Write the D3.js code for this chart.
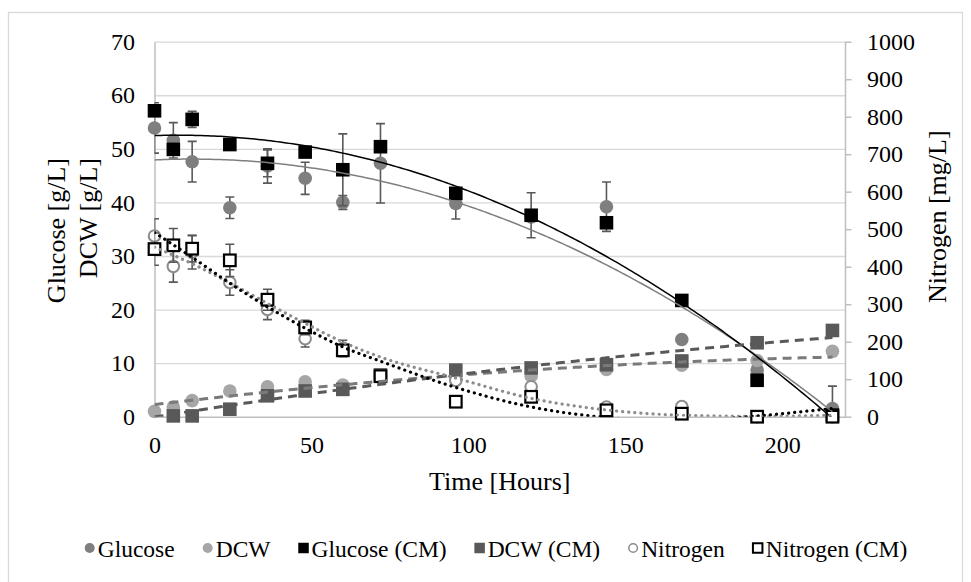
<!DOCTYPE html>
<html>
<head>
<meta charset="utf-8">
<script src="https://cdn.jsdelivr.net/npm/d3@7"></script>
<style>
  html, body { margin: 0; padding: 0; background: #fff; }
  svg { display: block; }
  text { font-family: "Liberation Serif", "Times New Roman", serif !important; fill: #000; }
</style>
</head>
<body>
<svg id="chart" width="971" height="582"></svg>
<script>
// ---------------- data ----------------
const times = [0, 6, 12, 24, 36, 48, 60, 72, 96, 120, 144, 168, 192, 216];

const glucose       = [53.9, 51.6, 47.6, 39.0, 46.8, 44.5, 40.0, 47.3, 39.8, 37.3, 39.2, 14.4, 8.7, 1.5];
const glucoseErr    = [4.7, 3.3, 3.8, 2.0, 3.2, 3.0, 1.3, 7.4, 2.9, 0, 4.6, 0, 0, 4.2];
const dcw           = [1.0, 1.8, 3.0, 4.8, 5.6, 6.5, 5.9, 7.5, 7.6, 7.6, 8.8, 9.6, 10.5, 12.2];
const glucoseCM     = [57.1, 49.9, 55.5, 50.8, 47.3, 49.4, 46.1, 50.4, 41.7, 37.6, 36.2, 21.7, 6.8, 0.3];
const glucoseCMErr  = [0, 0, 1.5, 0, 2.5, 0, 6.7, 0, 0, 4.2, 0, 0, 0, 0];
const dcwCM         = [null, 0.15, 0.15, 1.4, 3.9, 4.8, 5.1, 7.8, 8.7, 9.1, 9.7, 10.4, 13.8, 16.1];
const nitrogen      = [482, 401, 439, 358, 286, 208, 182, 108, 97, 80, 26, 27, 0, 0];
const nitrogenErr   = [46, 42, 45, 34, 27, 22, 22, 0, 0, 0, 0, 0, 0, 0];
const nitrogenCM    = [447, 457, 448, 417, 312, 238, 177, 108, 40, 53, 17, 8, 0, 0];
const nitrogenCMErr = [43, 45, 35, 43, 28, 19, 0, 0, 8, 10, 0, 6, 0, 0];

// nitrogen trend lines (clipped below 0 by the plot area)
const trendTimes      = [0, 12, 24, 36, 48, 60, 72, 96, 120, 144, 168, 192, 216];
const nitrogenTrend   = [452, 408, 357, 302, 249, 199, 159, 103, 49, 18, 4, 1, 4];
const nitrogenCMTrend = [491, 425, 356, 293, 236, 186, 148, 78, 26, -2, -11, 2, 22];

const xTicks = [0, 50, 100, 150, 200];
const yLeftTicks = [0, 10, 20, 30, 40, 50, 60, 70];
const yRightTicks = [0, 100, 200, 300, 400, 500, 600, 700, 800, 900, 1000];

const legendLabels = ["Glucose", "DCW", "Glucose (CM)", "DCW (CM)", "Nitrogen", "Nitrogen (CM)"];

// ---------------- layout ----------------
const svg = d3.select("#chart");
const P = { left: 154.5, right: 845, top: 41.7, bottom: 416.7 };
const FONT_TICK = 24, FONT_TITLE = 26, FONT_LEG = 23.5;
const SERIF = "'Liberation Serif', 'Times New Roman', serif";

const x = d3.scaleLinear().domain([0, 220]).range([P.left, P.right]);
const yL = d3.scaleLinear().domain([0, 70]).range([P.bottom, P.top]);
const yR = d3.scaleLinear().domain([0, 1000]).range([P.bottom, P.top]);

// chart frame
svg.append("rect").attr("x", 8.5).attr("y", 12.5).attr("width", 954).attr("height", 600)
  .attr("fill", "none").attr("stroke", "#d9d9d9").attr("stroke-width", 1.3);

svg.append("defs").append("clipPath").attr("id", "plotclip")
  .append("rect").attr("x", P.left).attr("y", P.top - 30).attr("width", P.right - P.left).attr("height", P.bottom - P.top + 30);

// gridlines
const grid = svg.append("g").attr("transform", `translate(${P.left},0)`)
  .call(d3.axisLeft(yL).tickValues(yLeftTicks.slice(1)).tickSize(-(P.right - P.left)).tickFormat(""));
grid.select(".domain").remove();
grid.selectAll("line").attr("stroke", "#d9d9d9").attr("stroke-width", 1.3);

// left axis
const gL = svg.append("g").attr("transform", `translate(${P.left},0)`)
  .call(d3.axisLeft(yL).tickValues(yLeftTicks).tickSize(0).tickPadding(19.5).tickSizeOuter(0));
gL.attr("font-family", SERIF);
gL.select(".domain").attr("stroke", "#bfbfbf").attr("stroke-width", 1.5);
gL.selectAll("text").attr("font-size", FONT_TICK).attr("fill", "#000");

// right axis
const gR = svg.append("g").attr("transform", `translate(${P.right},0)`)
  .call(d3.axisRight(yR).tickValues(yRightTicks).tickFormat(d3.format("d")).tickSize(6.5).tickPadding(15.5).tickSizeOuter(0));
gR.attr("font-family", SERIF);
gR.select(".domain").attr("stroke", "#bfbfbf").attr("stroke-width", 1.5);
gR.selectAll("line").attr("stroke", "#bfbfbf").attr("stroke-width", 1.5);
gR.selectAll("text").attr("font-size", FONT_TICK).attr("fill", "#000");

// bottom axis
const gX = svg.append("g").attr("transform", `translate(0,${P.bottom})`)
  .call(d3.axisBottom(x).tickValues(xTicks).tickSize(0).tickPadding(19).tickSizeOuter(0));
gX.attr("font-family", SERIF);
gX.select(".domain").attr("stroke", "#bfbfbf").attr("stroke-width", 1.5);
gX.selectAll("text").attr("font-size", FONT_TICK).attr("fill", "#000");

// axis titles
svg.append("text").attr("x", (P.left + P.right) / 2).attr("y", 490)
  .attr("text-anchor", "middle").attr("font-size", FONT_TITLE).text("Time [Hours]");
svg.append("text").attr("transform", "translate(65,158) rotate(-90)")
  .attr("text-anchor", "end").attr("font-size", FONT_TITLE).text("Glucose [g/L]");
svg.append("text").attr("transform", "translate(97,158) rotate(-90)")
  .attr("text-anchor", "end").attr("font-size", FONT_TITLE).text("DCW [g/L]");
svg.append("text").attr("transform", "translate(946,216.7) rotate(-90)")
  .attr("text-anchor", "middle").attr("font-size", FONT_TITLE).text("Nitrogen [mg/L]");

// ---------------- trend (least squares polynomial, like the spreadsheet trendline) ----------------
function polyfit(xs, ys, order) {
  const pts = xs.map((t, i) => [t / 100, ys[i]]).filter(p => p[1] != null);
  const n = order + 1;
  const A = Array.from({ length: n }, () => new Array(n + 1).fill(0));
  pts.forEach(([t, v]) => {
    for (let r = 0; r < n; r++) {
      for (let c = 0; c < n; c++) A[r][c] += Math.pow(t, r + c);
      A[r][n] += v * Math.pow(t, r);
    }
  });
  for (let i = 0; i < n; i++) {
    let m = i;
    for (let k = i + 1; k < n; k++) if (Math.abs(A[k][i]) > Math.abs(A[m][i])) m = k;
    [A[i], A[m]] = [A[m], A[i]];
    for (let k = i + 1; k < n; k++) {
      const f = A[k][i] / A[i][i];
      for (let j = i; j <= n; j++) A[k][j] -= f * A[i][j];
    }
  }
  const coef = new Array(n).fill(0);
  for (let i = n - 1; i >= 0; i--) {
    let s = A[i][n];
    for (let j = i + 1; j < n; j++) s -= A[i][j] * coef[j];
    coef[i] = s / A[i][i];
  }
  return t => coef.reduce((s, c, i) => s + c * Math.pow(t / 100, i), 0);
}

// ---------------- series ----------------
const series = [
  { name: "Glucose", vals: glucose, err: glucoseErr, y: yL, shape: "circle", fill: "#7f7f7f", stroke: "none",
    trend: { order: 2, color: "#7f7f7f", width: 1.5, dash: null } },
  { name: "DCW", vals: dcw, err: null, y: yL, shape: "circle", fill: "#a6a6a6", stroke: "none",
    trend: { order: 2, color: "#7a7a7a", width: 3, dash: "9 6" } },
  { name: "Glucose (CM)", vals: glucoseCM, err: glucoseCMErr, y: yL, shape: "square", fill: "#000", stroke: "none",
    trend: { order: 2, color: "#000", width: 1.5, dash: null } },
  { name: "DCW (CM)", vals: dcwCM, err: null, y: yL, shape: "square", fill: "#595959", stroke: "none",
    trend: { order: 2, color: "#595959", width: 3, dash: "9 6" } },
  { name: "Nitrogen", vals: nitrogen, err: nitrogenErr, y: yR, shape: "circle", fill: "#fff", stroke: "#8c8c8c",
    trend: { read: nitrogenTrend, color: "#8c8c8c", width: 3.2, dash: "0.1 6", cap: "round" } },
  { name: "Nitrogen (CM)", vals: nitrogenCM, err: nitrogenCMErr, y: yR, shape: "square", fill: "#fff", stroke: "#000",
    trend: { read: nitrogenCMTrend, color: "#000", width: 3.2, dash: "0.1 6", cap: "round" } }
];

const plot = svg.append("g");
const R = 6.8, S = 13.6;

series.forEach(s => {
  const pts = times.map((t, i) => ({ t, v: s.vals[i], e: s.err ? s.err[i] : 0 })).filter(d => d.v != null);
  const eb = plot.append("g").attr("clip-path", "url(#plotclip)")
    .attr("stroke", "#595959").attr("stroke-width", 1.6).attr("fill", "none");
  pts.filter(d => d.e > 0).forEach(d => {
    const cx = x(d.t), y1 = s.y(d.v + d.e), y2 = s.y(d.v - d.e);
    eb.append("line").attr("x1", cx).attr("x2", cx).attr("y1", y1).attr("y2", y2);
    eb.append("line").attr("x1", cx - 4.5).attr("x2", cx + 4.5).attr("y1", y1).attr("y2", y1);
    eb.append("line").attr("x1", cx - 4.5).attr("x2", cx + 4.5).attr("y1", y2).attr("y2", y2);
  });
  const mk = plot.append("g");
  const open = s.stroke !== "none";
  if (s.shape === "circle") {
    mk.selectAll("circle").data(pts).join("circle")
      .attr("cx", d => x(d.t)).attr("cy", d => s.y(d.v))
      .attr("r", open ? R - 1 : R)
      .attr("fill", s.fill).attr("stroke", s.stroke).attr("stroke-width", open ? 2 : 0);
  } else {
    const sz = open ? S - 2 : S;
    mk.selectAll("rect").data(pts).join("rect")
      .attr("x", d => x(d.t) - sz / 2).attr("y", d => s.y(d.v) - sz / 2)
      .attr("width", sz).attr("height", sz)
      .attr("fill", s.fill).attr("stroke", s.stroke).attr("stroke-width", open ? 2.2 : 0);
  }
});

// trend lines on top
const tl = svg.append("g").attr("clip-path", "url(#plotclip)");
series.forEach(s => {
  let d;
  if (s.trend.read) {
    const pts = trendTimes.map((t, i) => [t, s.trend.read[i]]);
    d = d3.line().x(p => x(p[0])).y(p => s.y(p[1])).curve(d3.curveMonotoneX)(pts);
  } else {
    const f = polyfit(times, s.vals, s.trend.order);
    const samples = d3.range(d3.min(times), d3.max(times) + 0.001, 1);
    d = d3.line().x(t => x(t)).y(t => s.y(f(t)))(samples);
  }
  tl.append("path").attr("d", d)
    .attr("fill", "none").attr("stroke", s.trend.color).attr("stroke-width", s.trend.width)
    .attr("stroke-dasharray", s.trend.dash).attr("stroke-linecap", s.trend.cap || "butt");
});

// ---------------- legend ----------------
const leg = svg.append("g");
const legY = 548, legBase = 557;
let cursor = 81;
series.forEach((s, i) => {
  const g = leg.append("g");
  const mx = cursor + 5;
  if (s.shape === "circle") {
    g.append("circle").attr("cx", mx).attr("cy", legY).attr("r", s.stroke !== "none" ? 4.3 : 5)
      .attr("fill", s.fill).attr("stroke", s.stroke).attr("stroke-width", s.stroke !== "none" ? 1.5 : 0);
  } else {
    const sz = s.stroke !== "none" ? 9.5 : 10.5;
    g.append("rect").attr("x", mx - sz / 2).attr("y", legY - sz / 2).attr("width", sz).attr("height", sz)
      .attr("fill", s.fill).attr("stroke", s.stroke).attr("stroke-width", s.stroke !== "none" ? 2 : 0);
  }
  const txt = g.append("text").attr("x", cursor + 13).attr("y", legBase)
    .attr("font-size", FONT_LEG).text(legendLabels[i]);
  const w = txt.node().getComputedTextLength();
  cursor = cursor + 13 + w + 28;
});
const legW = cursor - 28 - 81;
const shift = 496 - (81 + legW / 2);
leg.attr("transform", `translate(${shift},0)`);
</script>
</body>
</html>
